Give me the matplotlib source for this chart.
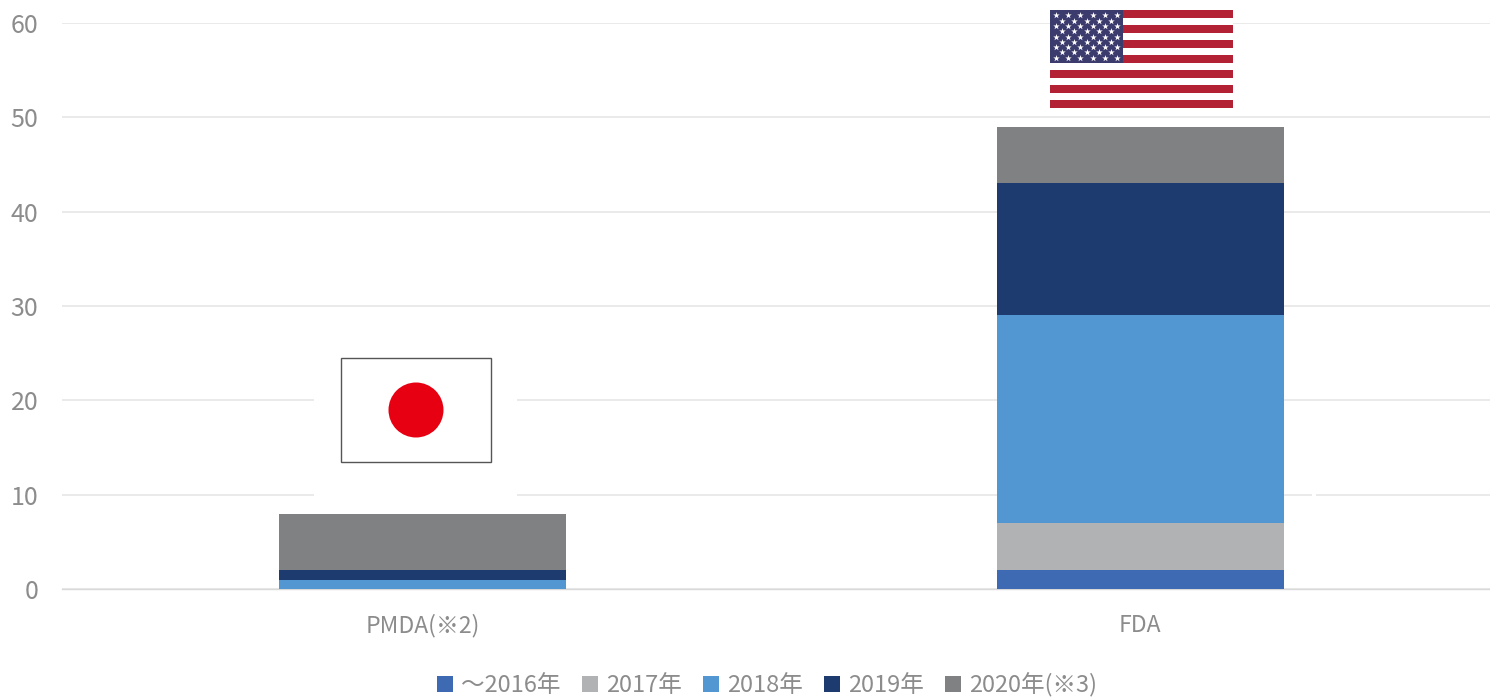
import matplotlib
matplotlib.use('Agg')
import matplotlib.pyplot as plt
from matplotlib.patches import Rectangle, Circle

plt.rcParams['font.family'] = ['Noto Sans CJK JP', 'DejaVu Sans']

# data
agencies = ['PMDA(※2)', 'FDA']
years = ['～2016年', '2017年', '2018年', '2019年', '2020年(※3)']
y2016 = [0, 2]
y2017 = [0, 5]
y2018 = [1, 22]
y2019 = [1, 14]
y2020 = [6, 6]
series = [y2016, y2017, y2018, y2019, y2020]
colors = ['#3D6AB2', '#B1B2B3', '#5296D2', '#1D3B6E', '#808183']
yticks = [0, 10, 20, 30, 40, 50, 60]

W, H = 1490, 698
TXT = '#8C8C8C'

fig = plt.figure(figsize=(W / 100, H / 100), dpi=100)
ax = fig.add_axes([62 / W, 1 - 589 / H, (W - 62) / W, (589 - 23) / H])

bottom = [0, 0]
for vals, col, name in zip(series, colors, years):
    ax.bar(range(len(agencies)), vals, width=0.4, bottom=bottom, color=col,
           linewidth=0, label=name, zorder=3)
    bottom = [b + v for b, v in zip(bottom, vals)]

ax.set_xlim(-0.502, 1.487)
ax.set_ylim(0, 60)
ax.set_yticks(yticks)
ax.set_xticks(range(len(agencies)))
ax.set_xticklabels(agencies, fontsize=16.5, color=TXT)
ax.tick_params(axis='y', length=0, labelsize=18, labelcolor=TXT, pad=17)
ax.tick_params(axis='x', length=0, pad=18)
ax.yaxis.grid(True, color='#E4E4E4', linewidth=1.1, zorder=0)
ax.set_axisbelow(True)
for s in ['top', 'right', 'left']:
    ax.spines[s].set_visible(False)
ax.spines['bottom'].set_color('#D9D9D9')
ax.spines['bottom'].set_linewidth(1.0)

fig.legend(loc='center', bbox_to_anchor=(767 / W, 1 - 685 / H), ncol=5, frameon=False,
           fontsize=17, labelcolor=TXT, handlelength=0.68, handleheight=0.68,
           handletextpad=0.34, columnspacing=0.9, borderpad=0)

# flags, on a pixel overlay
ov = fig.add_axes([0, 0, 1, 1], zorder=5)
ov.set_xlim(0, W)
ov.set_ylim(H, 0)
ov.axis('off')
ov.patch.set_alpha(0)

# japan
ov.add_patch(Rectangle((314, 352), 203, 161, fc='white', ec='none'))
ov.add_patch(Rectangle((341, 358), 150, 104, fc='white', ec='#555555', lw=1.0))
ov.add_patch(Circle((416, 410), 27.5, fc='#E60012', ec='none'))

# usa
fx, fy, fw, fh = 1050, 10, 183, 98
sh = fh / 13
ov.add_patch(Rectangle((fx, fy), fw, fh, fc='white', ec='none'))
for i in range(0, 13, 2):
    ov.add_patch(Rectangle((fx, fy + i * sh), fw, sh, fc='#B22234', ec='none'))
cw, ch = 73, 53
ov.add_patch(Rectangle((fx, fy), cw, ch, fc='#3C3B6E', ec='none'))
sx, sy = [], []
for r in range(9):
    n = 6 if r % 2 == 0 else 5
    off = 0 if r % 2 == 0 else 0.5
    for c in range(n):
        sx.append(fx + (c + off + 0.5) * cw / 6)
        sy.append(fy + (r + 1) * ch / 10)
ov.scatter(sx, sy, marker='*', s=24, color='white', linewidths=0)

# small nick in the 10 gridline
ov.add_patch(Rectangle((1312, 493), 4, 4, fc='white', ec='none'))

fig.savefig('out.png', dpi=100)
